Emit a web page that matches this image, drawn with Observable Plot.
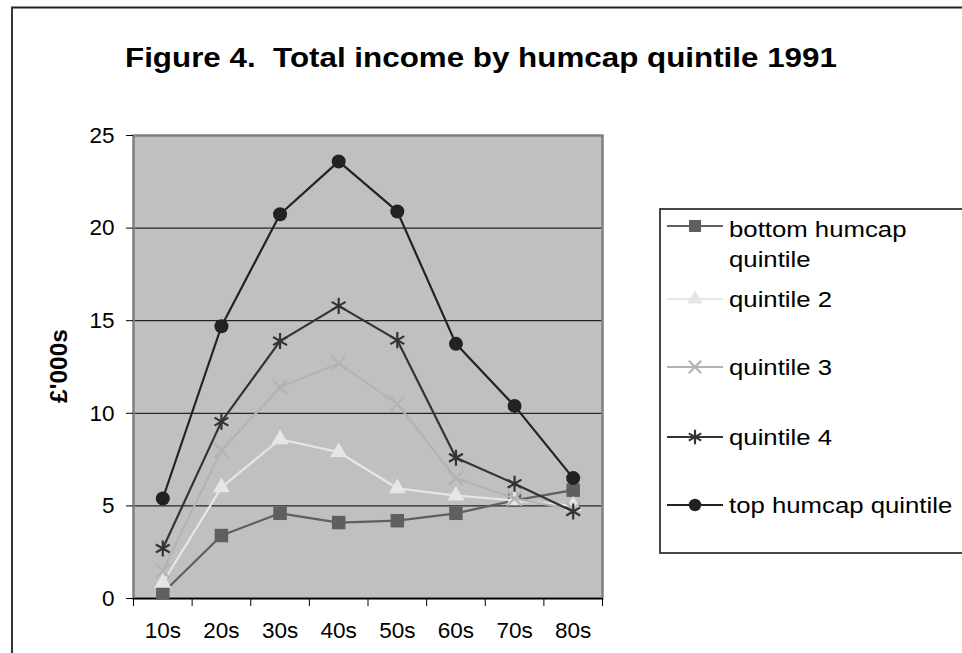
<!DOCTYPE html>
<html>
<head>
<meta charset="utf-8">
<script src="https://cdn.jsdelivr.net/npm/d3@7"></script>
<script src="https://cdn.jsdelivr.net/npm/@observablehq/plot@0.6"></script>
<style>
  body { margin: 0; background: #fff; }
  #wrap { position: relative; width: 962px; height: 653px; overflow: hidden; background: #fff; }
  #chart, #overlay { position: absolute; left: 0; top: 0; }
  #overlay { pointer-events: none; }
  text { font-family: "Liberation Sans", Arial, sans-serif; }
</style>
</head>
<body>
<div id="wrap">
  <div id="chart"></div>
  <svg id="overlay" width="962" height="653"></svg>
</div>
<script>
// ---- data ----
const categories = ["10s", "20s", "30s", "40s", "50s", "60s", "70s", "80s"];
const bottomQuintile = [0.3, 3.4, 4.6, 4.1, 4.2, 4.6, 5.3, 5.85];
const quintile2 = [0.85, 6.0, 8.6, 7.9, 5.95, 5.55, 5.3, 5.0];
const quintile3 = [1.5, 8.0, 11.4, 12.7, 10.5, 6.5, 5.4, 4.8];
const quintile4 = [2.7, 9.55, 13.9, 15.8, 13.95, 7.6, 6.2, 4.7];
const topQuintile = [5.4, 14.7, 20.75, 23.6, 20.9, 13.75, 10.4, 6.5];
const seriesNames = ["bottom humcap quintile", "quintile 2", "quintile 3", "quintile 4", "top humcap quintile"];
const legendLines = [["bottom humcap", "quintile"], ["quintile 2"], ["quintile 3"], ["quintile 4"], ["top humcap quintile"]];
const yTicks = [0, 5, 10, 15, 20, 25];
const gridValues = [5, 10, 15, 20];
const titleText = "Figure 4.\u00a0 Total income by humcap quintile 1991";
const yLabel = "£'000s";

// ---- styles ----
const seriesValues = [bottomQuintile, quintile2, quintile3, quintile4, topQuintile];
const styles = [
  {color: "#5f5f5f", symbol: "square", r: 7.6, filled: true},
  {color: "#e6e6e6", symbol: "triangle", r: 6.3, filled: true},
  {color: "#b3b3b3", symbol: "times", r: 6.4, filled: false},
  {color: "#333333", symbol: "asterisk", r: 7.6, filled: false},
  {color: "#222222", symbol: "circle", r: 7.0, filled: true}
];

const rows = seriesNames.flatMap((s, i) =>
  categories.map((c, j) => ({series: s, pos: j + 0.5, cat: c, value: seriesValues[i][j]}))
);

const marks = [
  Plot.frame({fill: "#c0c0c0"}),
  Plot.ruleY(gridValues, {stroke: "#000", strokeWidth: 1}),
  Plot.frame({stroke: "#808080", strokeWidth: 2.5}),
  Plot.ruleY([0], {stroke: "#000", strokeWidth: 1.5}),
  Plot.axisY({ticks: yTicks, tickSize: 7, tickPadding: 12, tickFormat: d => String(d)}),
  Plot.axisX({ticks: d3.range(0, categories.length + 1), tickSize: 8, tickFormat: () => ""}),
  Plot.axisX({ticks: categories.map((c, i) => i + 0.5), tickSize: 0, tickPadding: 24,
              tickFormat: v => categories[Math.floor(v)]})
];

seriesNames.forEach((s, i) => {
  const data = rows.filter(d => d.series === s);
  const st = styles[i];
  marks.push(Plot.line(data, {x: "pos", y: "value", stroke: st.color, strokeWidth: 2.2}));
  marks.push(Plot.dot(data, st.filled
    ? {x: "pos", y: "value", symbol: st.symbol, r: st.r, fill: st.color, stroke: "none"}
    : {x: "pos", y: "value", symbol: st.symbol, r: st.r, fill: "none", stroke: st.color, strokeWidth: 2.2}));
});

const chart = Plot.plot({
  width: 962,
  height: 653,
  marginLeft: 133,
  marginRight: 360,
  marginTop: 135,
  marginBottom: 55,
  x: {domain: [0, categories.length], label: null},
  y: {domain: [0, 25], label: null},
  style: {fontSize: "22.5px", fontFamily: "'Liberation Sans', Arial, sans-serif", color: "#000", background: "transparent"},
  marks
});
document.getElementById("chart").appendChild(chart);

// ---- overlay: border, title, y label, legend ----
const ov = d3.select("#overlay");
ov.append("path").attr("d", "M12,700 V7.5 H980").attr("fill", "none").attr("stroke", "#222").attr("stroke-width", 1.8);

ov.append("text")
  .attr("transform", "translate(125,67) scale(1.12,1)")
  .attr("font-size", 28).attr("font-weight", "bold").attr("fill", "#000")
  .text(titleText);

ov.append("text")
  .attr("transform", "translate(67,366) rotate(-90)")
  .attr("text-anchor", "middle")
  .attr("font-size", 24.5).attr("font-weight", "bold").attr("fill", "#000")
  .text(yLabel);

const lg = ov.append("g").attr("transform", "translate(660,209)");
lg.append("rect").attr("x", 0).attr("y", 0).attr("width", 400).attr("height", 344)
  .attr("fill", "#fff").attr("stroke", "#333").attr("stroke-width", 1.8);

const itemY = [17, 90, 158, 228, 296];
const symbolMap = {square: d3.symbolSquare, triangle: d3.symbolTriangle, times: d3.symbolTimes, asterisk: d3.symbolAsterisk, circle: d3.symbolCircle};
seriesNames.forEach((s, i) => {
  const st = styles[i];
  const y = itemY[i];
  lg.append("line").attr("x1", 7).attr("x2", 63).attr("y1", y).attr("y2", y)
    .attr("stroke", st.color).attr("stroke-width", 2.2);
  const p = lg.append("path")
    .attr("transform", `translate(35,${y})`)
    .attr("d", d3.symbol(symbolMap[st.symbol], st.r * st.r * Math.PI * 0.8)());
  if (st.filled) p.attr("fill", st.color);
  else p.attr("fill", "none").attr("stroke", st.color).attr("stroke-width", 2.2);
  legendLines[i].forEach((line, k) => {
    lg.append("text")
      .attr("transform", `translate(69,${y + 8 + (i === 0 ? 3 : 0) + k * 30}) scale(1.12,1)`)
      .attr("font-size", 23).attr("fill", "#000")
      .text(line);
  });
});
</script>
</body>
</html>
